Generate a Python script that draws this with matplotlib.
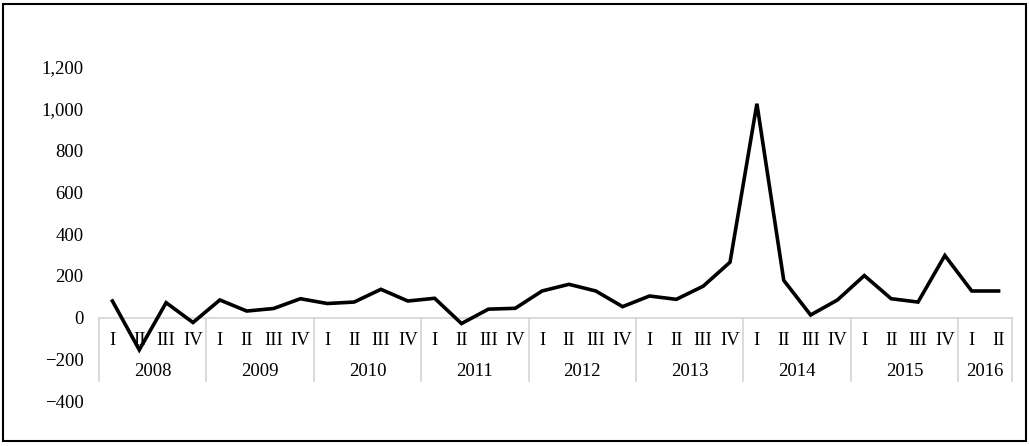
import matplotlib
matplotlib.use("Agg")
import matplotlib.pyplot as plt
from matplotlib.patches import Rectangle

years = ["2008", "2009", "2010", "2011", "2012", "2013", "2014", "2015", "2016"]
quarters_per_year = [4, 4, 4, 4, 4, 4, 4, 4, 2]
quarter_names = ["I", "II", "III", "IV"]
values = [79, -155, 71, -24,
          84, 31, 43, 90,
          67, 74, 135, 79,
          92, -29, 40, 44,
          127, 159, 127, 52,
          103, 87, 150, 265,
          1024, 178, 12, 84,
          201, 90, 74, 297,
          127, 127]
yticks = [-400, -200, 0, 200, 400, 600, 800, 1000, 1200]

plt.rcParams['font.family'] = ['Liberation Serif', 'DejaVu Serif']

W, H = 1029, 446
fig = plt.figure(figsize=(W / 100, H / 100), dpi=100)
ax = fig.add_axes([99 / W, 1 - 401 / H, 913 / W, (401 - 67) / H])

n = len(values)
xs = list(range(n))
ax.plot(xs, values, color="black", lw=2.6, solid_joinstyle="miter", zorder=3)

ax.set_xlim(-0.5, n - 0.5)
ax.set_ylim(-400, 1200)
for s in ax.spines.values():
    s.set_visible(False)
ax.set_xticks([])
ax.set_yticks(yticks)
ax.set_yticklabels([f"{v:,}".replace("-", "\u2212") for v in yticks], fontsize=13.5)
ax.tick_params(axis="y", length=0, pad=11)

grey = "#d4d4d4"
# category axis line at zero
ax.plot([-0.5, n - 0.5], [0, 0], color=grey, lw=1.2, zorder=1, clip_on=False)
sep_bottom = -305
ax.plot([-0.5, -0.5], [0, sep_bottom], color=grey, lw=1.2, clip_on=False)
pos = 0
for yr, nq in zip(years, quarters_per_year):
    for q in range(nq):
        ax.text(pos + q, -108, quarter_names[q], ha="center", va="center", fontsize=13.5)
    ax.text(pos + (nq - 1) / 2, -258, yr, ha="center", va="center", fontsize=13.5)
    pos += nq
    ax.plot([pos - 0.5, pos - 0.5], [0, sep_bottom], color=grey, lw=1.2, clip_on=False)

# outer frame
fig.patches.append(Rectangle((3 / W, 1 - 441 / H), 1023 / W, 437 / H,
                             transform=fig.transFigure, fill=False,
                             edgecolor="black", lw=1.5))

fig.savefig("out.png", dpi=100)
